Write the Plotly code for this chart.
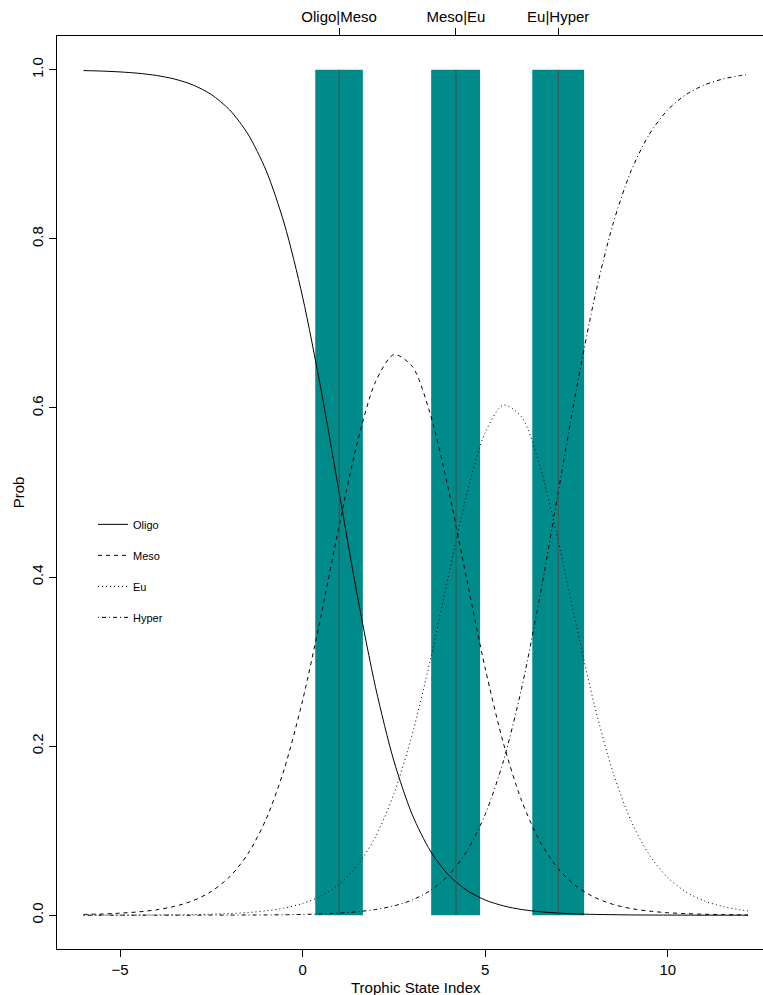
import plotly.graph_objects as go

# ---- data ----
tsi = [-6, -5.5, -5, -4.5, -4, -3.5, -3, -2.5, -2, -1.5, -1, -0.5, 0, 0.5, 1, 1.5, 2, 2.5,
       3, 3.5, 4, 4.5, 5, 5.5, 6, 6.5, 7, 7.5, 8, 8.5, 9, 9.5, 10, 10.5, 11, 11.5, 12, 12.2]

oligo = [0.9991, 0.9985, 0.9975, 0.9959, 0.9933, 0.9890, 0.9820, 0.9707, 0.9526, 0.9241,
         0.8808, 0.8176, 0.7311, 0.6225, 0.5000, 0.3775, 0.2689, 0.1824, 0.1192, 0.0759,
         0.0474, 0.0293, 0.0180, 0.0110, 0.0067, 0.0041, 0.0025, 0.0015, 0.0009, 0.0006,
         0.0003, 0.0002, 0.0001, 0.0001, 0.0000, 0.0000, 0.0000, 0.0000]

meso = [0.0009, 0.0014, 0.0024, 0.0039, 0.0064, 0.0105, 0.0172, 0.0281, 0.0454, 0.0725,
        0.1137, 0.1734, 0.2542, 0.3534, 0.4608, 0.5595, 0.6313, 0.6631, 0.6493, 0.5923,
        0.5024, 0.3963, 0.2920, 0.2032, 0.1352, 0.0871, 0.0549, 0.0341, 0.0210, 0.0128,
        0.0078, 0.0048, 0.0029, 0.0018, 0.0011, 0.0007, 0.0004, 0.0003]

eu = [0.0000, 0.0001, 0.0001, 0.0002, 0.0003, 0.0004, 0.0007, 0.0012, 0.0019, 0.0031,
      0.0052, 0.0085, 0.0139, 0.0226, 0.0367, 0.0589, 0.0931, 0.1435, 0.2135, 0.3025,
      0.4027, 0.4986, 0.5708, 0.6034, 0.5892, 0.5313, 0.4427, 0.3420, 0.2471, 0.1690,
      0.1110, 0.0709, 0.0444, 0.0275, 0.0169, 0.0103, 0.0063, 0.0052]

hyper = [0.0000, 0.0000, 0.0000, 0.0000, 0.0000, 0.0000, 0.0000, 0.0001, 0.0001, 0.0002,
         0.0003, 0.0005, 0.0009, 0.0015, 0.0025, 0.0041, 0.0067, 0.0110, 0.0180, 0.0293,
         0.0474, 0.0759, 0.1192, 0.1824, 0.2689, 0.3775, 0.5000, 0.6225, 0.7311, 0.8176,
         0.8808, 0.9241, 0.9526, 0.9707, 0.9820, 0.9890, 0.9933, 0.9945]

cut_points = [1.0, 4.2, 7.0]
cut_labels = ["Oligo|Meso", "Meso|Eu", "Eu|Hyper"]
band_low = [0.345, 3.52, 6.29]
band_high = [1.65, 4.86, 7.71]
band_bottom = 0.0
band_top = 1.0

x_ticks = [-5, 0, 5, 10]
y_ticks = [0.0, 0.2, 0.4, 0.6, 0.8, 1.0]
y_tick_text = ["0.0", "0.2", "0.4", "0.6", "0.8", "1.0"]

series_names = ["Oligo", "Meso", "Eu", "Hyper"]
series_values = [oligo, meso, eu, hyper]
series_dash = ["solid", "4px,4px", "1px,3px", "1px,3px,4px,3px"]

FONT = "Liberation Sans, Arial, Helvetica, sans-serif"
X_RANGE = [-6.728, 12.609]
Y_RANGE = [-0.04, 1.04]

fig = go.Figure()

for name, vals, dash in zip(series_names, series_values, series_dash):
    fig.add_trace(go.Scatter(
        x=tsi, y=vals, name=name, mode="lines", legendgroup=name,
        line=dict(color="black", width=1, dash=dash, shape="spline", smoothing=0.8),
    ))

# cut-point lines (on the top axis)
cx, cy = [], []
for c in cut_points:
    cx += [c, c, None]
    cy += [band_bottom, band_top, None]
fig.add_trace(go.Scatter(x=cx, y=cy, xaxis="x2", mode="lines", showlegend=False,
                         hoverinfo="skip", line=dict(color="rgb(75,75,75)", width=1)))

# bands
for lo, hi in zip(band_low, band_high):
    fig.add_shape(type="rect", xref="x", yref="y", x0=lo, x1=hi, y0=band_bottom, y1=band_top,
                  fillcolor="#008B8B", line=dict(width=0), layer="below")

axis_common = dict(showgrid=False, zeroline=False, showline=True, linecolor="black",
                   linewidth=1, ticks="outside", ticklen=7, tickwidth=1, tickcolor="black",
                   tickfont=dict(family=FONT, size=15, color="black"))

fig.update_layout(
    width=763, height=995,
    margin=dict(l=57, r=0, t=36, b=46),
    paper_bgcolor="white", plot_bgcolor="white",
    font=dict(family=FONT, size=15, color="black"),
    xaxis=dict(range=X_RANGE, tickvals=x_ticks, **axis_common),
    xaxis2=dict(range=X_RANGE, overlaying="x", side="top", tickvals=cut_points,
                ticktext=cut_labels, **axis_common),
    yaxis=dict(range=Y_RANGE, tickvals=y_ticks, ticktext=y_tick_text, tickangle=-90,
               title=dict(text="Prob", font=dict(family=FONT, size=15), standoff=0),
               **axis_common),
    legend=dict(x=0.051, y=0.481, xanchor="left", yanchor="top",
                bgcolor="rgba(0,0,0,0)", borderwidth=0, tracegroupgap=12,
                font=dict(family=FONT, size=11, color="black")),
    annotations=[dict(text="Trophic State Index", xref="paper", yref="paper",
                      x=(416 - 57) / 706, y=(949 - 987) / 913, xanchor="center",
                      yanchor="middle", showarrow=False,
                      font=dict(family=FONT, size=15, color="black"))],
)

fig.write_html(
    "out.html",
    config={"displayModeBar": False, "staticPlot": True},
    post_script="document.body.style.margin='0';document.body.style.padding='0';"
                "document.body.style.overflow='hidden';",
)
